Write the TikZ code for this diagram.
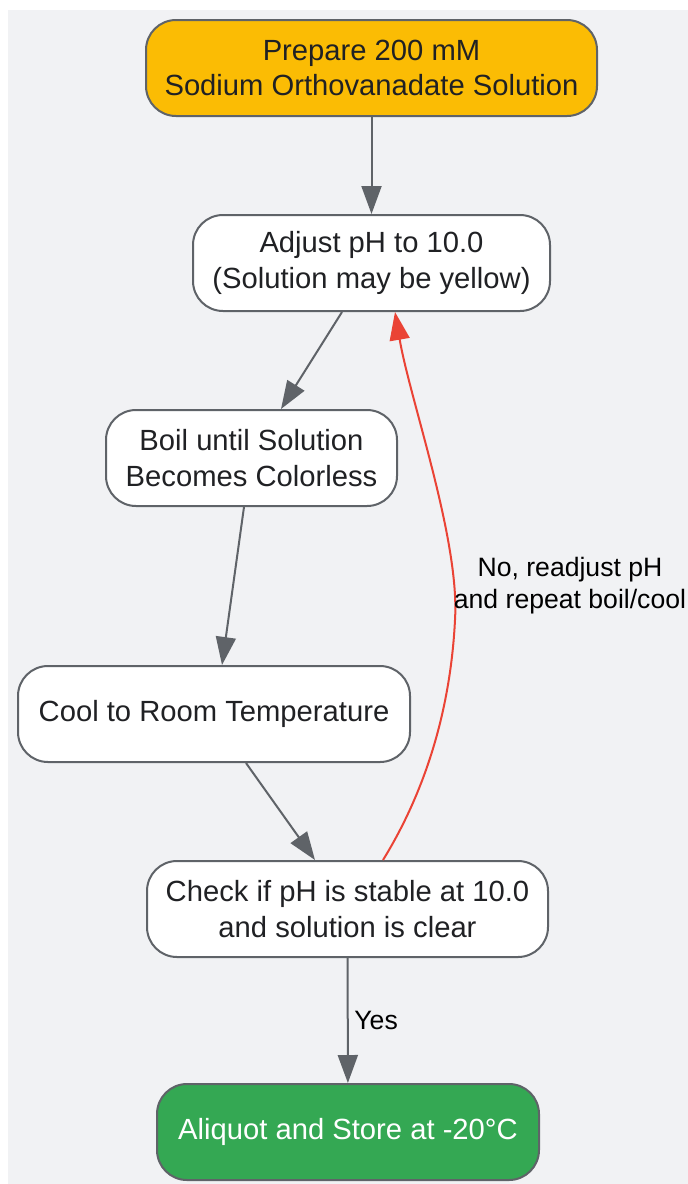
\documentclass[tikz,border=0pt]{standalone}
\usepackage{fontspec}
\setmainfont{Liberation Sans}
\usepackage{xcolor}
\usepackage{tikz}
\usetikzlibrary{shapes, arrows.meta, positioning}
\definecolor{edgegray}{HTML}{5F6368}
\definecolor{bggray}{HTML}{F1F2F4}
\definecolor{startyellow}{HTML}{FBBC04}
\definecolor{endgreen}{HTML}{34A853}
\definecolor{loopred}{HTML}{EA4335}
\definecolor{inkdark}{HTML}{202124}

\begin{document}
\begin{tikzpicture}
  [
    x=0.5pt, y=-0.5pt,
    Step/.style={rectangle, rounded corners=15pt, draw=edgegray, fill=white, line width=1pt,
      minimum height=48pt, align=center, text=inkdark, font=\fontsize{14.6}{17.8}\selectfont},
    Start/.style={Step, fill=startyellow},
    Finish/.style={Step, fill=endgreen, text=white},
    Flow/.style={-{Triangle[length=14pt, width=10pt]}, draw=edgegray, line width=1pt},
    Loop/.style={-{Triangle[length=14pt, width=10pt]}, draw=loopred, line width=1pt},
    Note/.style={text=black, align=center, font=\fontsize{13.3}{16}\selectfont}
  ]
  \useasboundingbox (0,0) rectangle (688,1184);
  \fill[bggray] (8,10) rectangle (688,1184);
  % Nodes
  \node[Start, minimum width=225.5pt] (prep) at(371.5, 68) {Prepare 200 mM\\Sodium Orthovanadate Solution};
  \node[Step, minimum width=178.5pt] (adjust) at(371.5, 263) {Adjust pH to 10.0\\(Solution may be yellow)};
  \node[Step, minimum width=145.5pt] (boil) at(251.5, 458) {Boil until Solution\\Becomes Colorless};
  \node[Step, minimum width=196pt] (cool) at(214, 714) {Cool to Room Temperature};
  \node[Step, minimum width=200.5pt] (check) at(347.5, 909) {Check if pH is stable at 10.0\\and solution is clear};
  \node[Finish, minimum width=191pt] (store) at(348, 1132) {Aliquot and Store at -20°C};
  % Lines
  \path [Flow] (prep) -- (adjust);
  \path [Flow] ([xshift=-14.75pt]adjust.south) -- ([xshift=14.75pt]boil.north);
  \path [Flow] ([xshift=-3.75pt]boil.south) -- ([xshift=4pt]cool.north);
  \path [Flow] ([xshift=16pt]cool.south) -- ([xshift=-16.25pt]check.north);
  \path [Flow] (check) -- node[Note, right=-0.5pt] {Yes} (store);
  \path [Loop] ([xshift=17.75pt]check.north) .. controls (420,800) and (450,720) .. (455,620)
    .. controls (460,540) and (410,400) .. ([xshift=11.75pt]adjust.south);
  \node[Note] (redo) at(570, 586) {No, readjust pH\\and repeat boil/cool};
\end{tikzpicture}
\end{document}
